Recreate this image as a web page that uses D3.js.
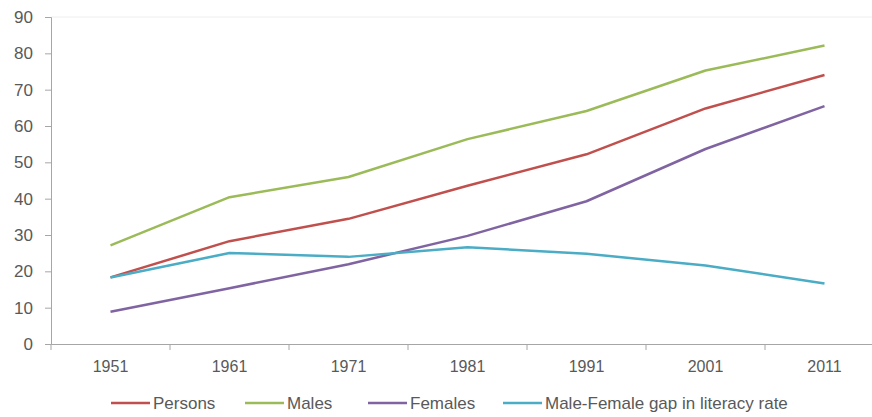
<!DOCTYPE html>
<html><head><meta charset="utf-8">
<script src="https://cdn.jsdelivr.net/npm/d3@7"></script>
<style>body{margin:0;background:#fff}svg{display:block}text{font-family:"Liberation Sans",Arial,sans-serif;fill:#595959}</style>
</head><body><svg id="c" width="872" height="417"></svg>
<script>
const years = ["1951","1961","1971","1981","1991","2001","2011"];
const persons = [18.33,28.3,34.45,43.57,52.21,64.83,74.04];
const males = [27.16,40.4,45.96,56.38,64.13,75.26,82.14];
const females = [8.86,15.35,21.97,29.76,39.29,53.67,65.46];
const gap = [18.3,25.05,23.98,26.62,24.84,21.59,16.68];
const seriesNames = ["Persons","Males","Females","Male-Female gap in literacy rate"];
const colors = ["#C0504D","#9BBB59","#8064A2","#4BACC6"];
const yTicks = [0,10,20,30,40,50,60,70,80,90];

const series = [persons,males,females,gap];
const svg = d3.select("#c");
const x = d3.scaleBand().domain(years).range([51,884]);
const y = d3.scaleLinear().domain([0,90]).range([344,17]);

// top faint border
svg.append("line").attr("x1",51).attr("x2",884).attr("y1",17).attr("y2",17).attr("stroke","#eeeeee");

const ya = svg.append("g").attr("transform","translate(51,0)")
  .call(d3.axisLeft(y).tickValues(yTicks).tickSize(6).tickPadding(12));
ya.select(".domain").attr("stroke","#a6a6a6");
ya.selectAll(".tick line").attr("stroke","#a6a6a6");
ya.selectAll("text").style("font-size","17px").attr("fill","#595959");

const xa = svg.append("g").attr("transform","translate(0,344)")
  .call(d3.axisBottom(x).tickSize(0).tickPadding(17));
xa.select(".domain").attr("stroke","#a6a6a6");
xa.selectAll("text").style("font-size","16px").attr("fill","#595959");
// category boundary ticks
const bounds = years.map(d=>x(d)).concat([x.range()[1]]);
svg.append("g").selectAll("line").data(bounds).join("line")
  .attr("x1",d=>d).attr("x2",d=>d).attr("y1",344).attr("y2",350).attr("stroke","#a6a6a6");

const line = d3.line().x((d,i)=>x(years[i])+x.bandwidth()/2).y(d=>y(d));
series.forEach((s,k)=>{
  svg.append("path").datum(s).attr("d",line).attr("fill","none")
    .attr("stroke",colors[k]).attr("stroke-width",2.5).attr("stroke-linejoin","round");
});

// legend
const legX = [111,245,368,503];
const lg = svg.append("g");
seriesNames.forEach((n,k)=>{
  lg.append("line").attr("x1",legX[k]).attr("x2",legX[k]+39).attr("y1",403).attr("y2",403)
    .attr("stroke",colors[k]).attr("stroke-width",2.5);
  lg.append("text").attr("x",legX[k]+42).attr("y",403).attr("dy","0.35em")
    .style("font-size","17px").text(n);
});
</script></body></html>
